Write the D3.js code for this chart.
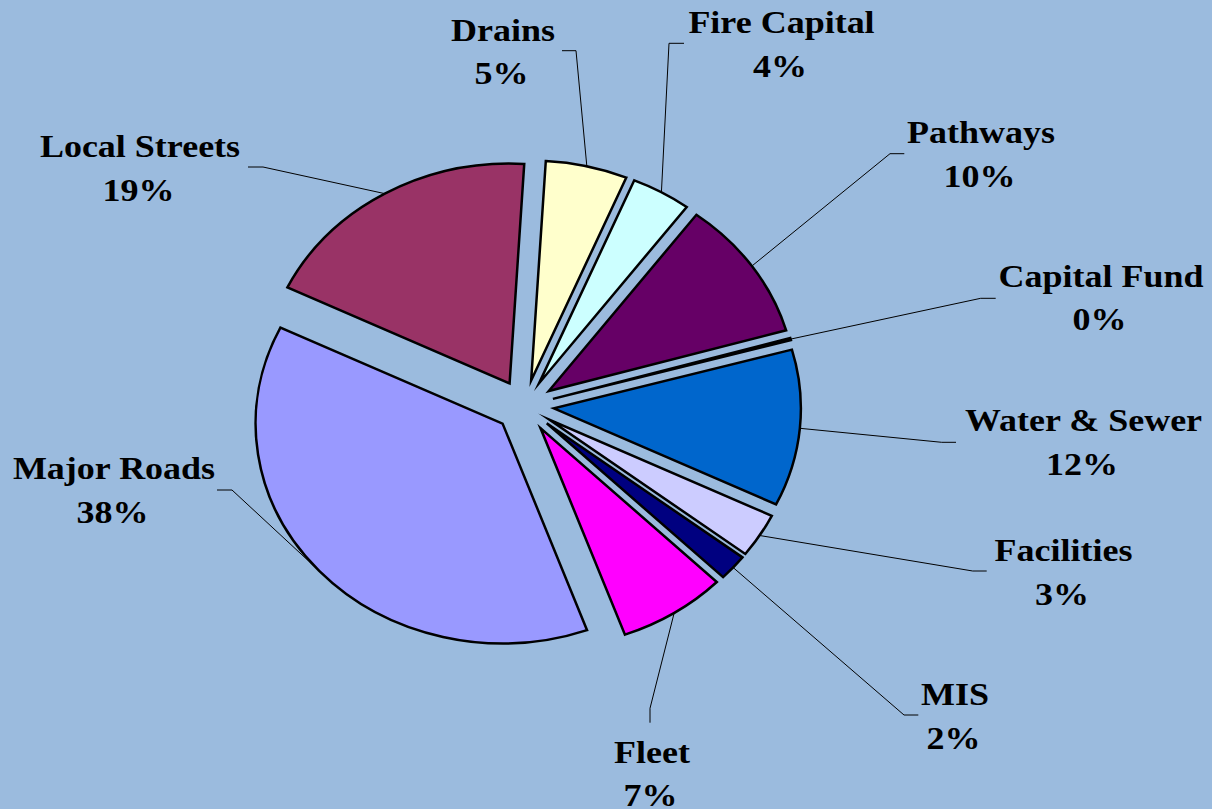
<!DOCTYPE html>
<html>
<head>
<meta charset="utf-8">
<script src="https://cdn.jsdelivr.net/npm/d3@7"></script>
<style>
  html, body { margin: 0; padding: 0; background: #9BBBDE; }
  svg { display: block; }
  text { font-family: "Times New Roman", "Liberation Serif", Tinos, "DejaVu Serif", Times, serif; font-weight: bold; fill: #000; }
</style>
</head>
<body>
<svg id="chart" width="1212" height="809"></svg>
<script>
// ---- data (shares in percent) ----
const categories = ["Major Roads", "Local Streets", "Drains", "Fire Capital", "Pathways",
                    "Capital Fund", "Water & Sewer", "Facilities", "MIS", "Fleet"];
const shares = [37.75, 18.75, 5.35, 3.9, 10.35, 0.15, 11.5, 3.25, 1.9, 7.1];
const colors = ["#9999FF", "#993366", "#FFFFCC", "#CCFFFF", "#660066",
                "#FF8080", "#0066CC", "#CCCCFF", "#000080", "#FF00FF"];

// ---- layout (label centre / baseline, leader elbow points) ----
const labelX   = [114, 140, 503, 781.5, 981, 1101, 1083.5, 1063.5, 955, 652];
const labelY   = [479, 157, 40.5, 33.3, 143.3, 286.7, 431, 561, 705, 762.7];
const leaderA  = [[217,490],[248,167],[562,50.7],[684,43.3],[904.3,153.7],[995.7,298.3],[956,442.3],[986.7,571],[918.3,715],[650,722.7]];
const leaderB  = [[232,490],[263,167],[576,50.7],[669,43.3],[890,153.7],[980.7,298.3],[941.7,442.3],[972.7,571],[904,715],[650,708.3]];

const W = 1212, H = 809;
const cx = 524.5, cy = 406, R = 247, explode = 29.5, ky = 0.89;
const startDeg = 160;

const svg = d3.select("#chart");
svg.append("rect").attr("width", W).attr("height", H).attr("fill", "#9BBBDE");

const data = categories.map((c, i) => ({ name: c, value: shares[i], color: colors[i], i }));

const pie = d3.pie().sort(null).value(d => d.value)
  .startAngle(startDeg * Math.PI / 180)
  .endAngle(startDeg * Math.PI / 180 + 2 * Math.PI);
const arcs = pie(data);
const arc = d3.arc().innerRadius(0).outerRadius(R);

const g = svg.append("g").attr("transform", `translate(${cx},${cy}) scale(1,${ky})`);

g.selectAll("path.slice").data(arcs).enter().append("path")
  .attr("class", "slice")
  .attr("d", arc)
  .attr("transform", d => {
    const m = (d.startAngle + d.endAngle) / 2;
    return `translate(${explode * Math.sin(m)},${-explode * Math.cos(m)})`;
  })
  .attr("fill", d => d.data.color)
  .attr("stroke", "#000")
  .attr("stroke-width", 2.5)
  .attr("stroke-linejoin", "miter")
  .attr("stroke-miterlimit", 12)
  .attr("vector-effect", "non-scaling-stroke");

// leader lines
const leaders = svg.append("g");
arcs.forEach((d, i) => {
  const m = (d.startAngle + d.endAngle) / 2;
  const px = cx + (explode + R) * Math.sin(m);
  const py = cy - ky * (explode + R) * Math.cos(m);
  const pts = [leaderA[i], leaderB[i], [px, py]];
  leaders.append("path")
    .attr("d", d3.line()(pts))
    .attr("fill", "none")
    .attr("stroke", "#000")
    .attr("stroke-width", 1);
});

// labels
const labels = svg.append("g");
arcs.forEach((d, i) => {
  labels.append("text")
    .attr("transform", `translate(${labelX[i]},${labelY[i]}) scale(1,${ky})`)
    .attr("text-anchor", "middle")
    .attr("font-size", 36)
    .text(d.data.name);
  labels.append("text")
    .attr("transform", `translate(${labelX[i] - 1.5},${labelY[i] + 43.5}) scale(1,${ky})`)
    .attr("text-anchor", "middle")
    .attr("font-size", 36)
    .text(Math.round(d.data.value) + "%");
});
</script>
</body>
</html>
